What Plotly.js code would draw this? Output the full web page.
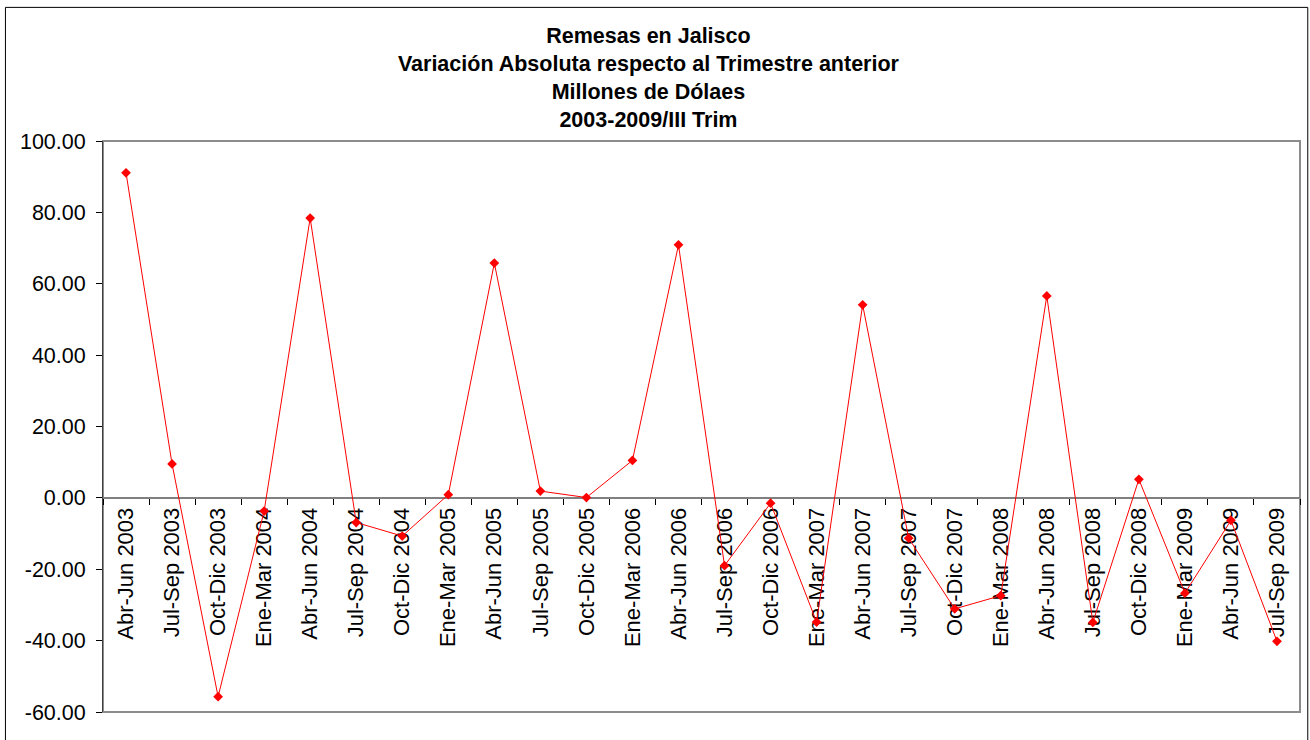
<!DOCTYPE html>
<html>
<head>
<meta charset="utf-8">
<script src="https://cdn.plot.ly/plotly-3.0.1.min.js"></script>
<style>
  html, body { margin: 0; padding: 0; background: #fff; }
  #gd { width: 1310px; height: 740px; }
</style>
</head>
<body>
<div id="gd"></div>
<script>
var quarters = [
  "Abr-Jun 2003", "Jul-Sep 2003", "Oct-Dic 2003",
  "Ene-Mar 2004", "Abr-Jun 2004", "Jul-Sep 2004", "Oct-Dic 2004",
  "Ene-Mar 2005", "Abr-Jun 2005", "Jul-Sep 2005", "Oct-Dic 2005",
  "Ene-Mar 2006", "Abr-Jun 2006", "Jul-Sep 2006", "Oct-Dic 2006",
  "Ene-Mar 2007", "Abr-Jun 2007", "Jul-Sep 2007", "Oct-Dic 2007",
  "Ene-Mar 2008", "Abr-Jun 2008", "Jul-Sep 2008", "Oct-Dic 2008",
  "Ene-Mar 2009", "Abr-Jun 2009", "Jul-Sep 2009"
];

// variacion absoluta, millones de dolares
var variacion = [
  91.1, 9.5, -55.7,
  -3.7, 78.4, -6.9, -10.7,
  0.9, 65.8, 1.9, 0.1,
  10.5, 70.9, -19.0, -1.5,
  -34.8, 54.1, -11.3, -31.1,
  -27.4, 56.6, -34.9, 5.2,
  -26.7, -6.3, -40.2
];

var yTicks = [-60, -40, -20, 0, 20, 40, 60, 80, 100];
// excel style labels, plain hyphen for the minus
var yTickText = yTicks.map(function (v) { return v.toFixed(2); });

var font = "'Liberation Sans', Arial, sans-serif";

var layout = {
  width: 1310,
  height: 740,
  margin: { l: 103, r: 10, t: 141, b: 28, pad: 0 },
  paper_bgcolor: "#ffffff",
  plot_bgcolor: "#ffffff",
  showlegend: false,
  font: { family: font, size: 21, color: "#000" },
  title: {
    text: "<b>Remesas en Jalisco<br>Variación Absoluta respecto al Trimestre anterior<br>Millones de Dólaes<br>2003-2009/III Trim</b>",
    font: { family: font, size: 21.5, color: "#000" },
    x: 0.495,
    xanchor: "center",
    xref: "container",
    yref: "container",
    y: 0.942,
    yanchor: "middle"
  },
  xaxis: {
    type: "category",
    range: [-0.5, quarters.length - 0.5],
    anchor: "free",
    position: 0.375,
    layer: "below traces",
    showline: true,
    linecolor: "#808080",
    linewidth: 2,
    showgrid: false,
    zeroline: false,
    ticks: "outside",
    tickson: "boundaries",
    ticklen: 6,
    tickcolor: "#000",
    tickwidth: 1,
    tickangle: -90,
    tickfont: { family: font, size: 22, color: "#000" },
    fixedrange: true
  },
  yaxis: {
    range: [-60, 100],
    tickvals: yTicks,
    ticktext: yTickText,
    showline: true,
    linecolor: "#404040",
    linewidth: 1,
    showgrid: false,
    zeroline: false,
    ticks: "outside",
    ticklen: 6,
    ticklabelstandoff: 6,
    tickcolor: "#000",
    tickfont: { family: font, size: 21.5, color: "#000" },
    fixedrange: true
  },
  shapes: [
    // plot area border
    {
      type: "rect", xref: "paper", yref: "paper",
      x0: 0, x1: 1, y0: 0, y1: 1,
      line: { color: "#8c8c8c", width: 2 },
      layer: "below"
    },
    // chart area border
    {
      type: "rect", xref: "paper", yref: "paper",
      x0: -0.0815, x1: 1.0065, y0: -0.1, y1: 1.234,
      line: { color: "#000", width: 1 }
    }
  ]
};

var trace = {
  type: "scatter",
  mode: "lines+markers",
  x: quarters,
  y: variacion,
  line: { color: "#ff0000", width: 1 },
  marker: { symbol: "diamond", size: 7.5, color: "#ff0000" },
  hoverinfo: "x+y"
};

Plotly.newPlot("gd", [trace], layout, { displayModeBar: false, staticPlot: true });
</script>
</body>
</html>
